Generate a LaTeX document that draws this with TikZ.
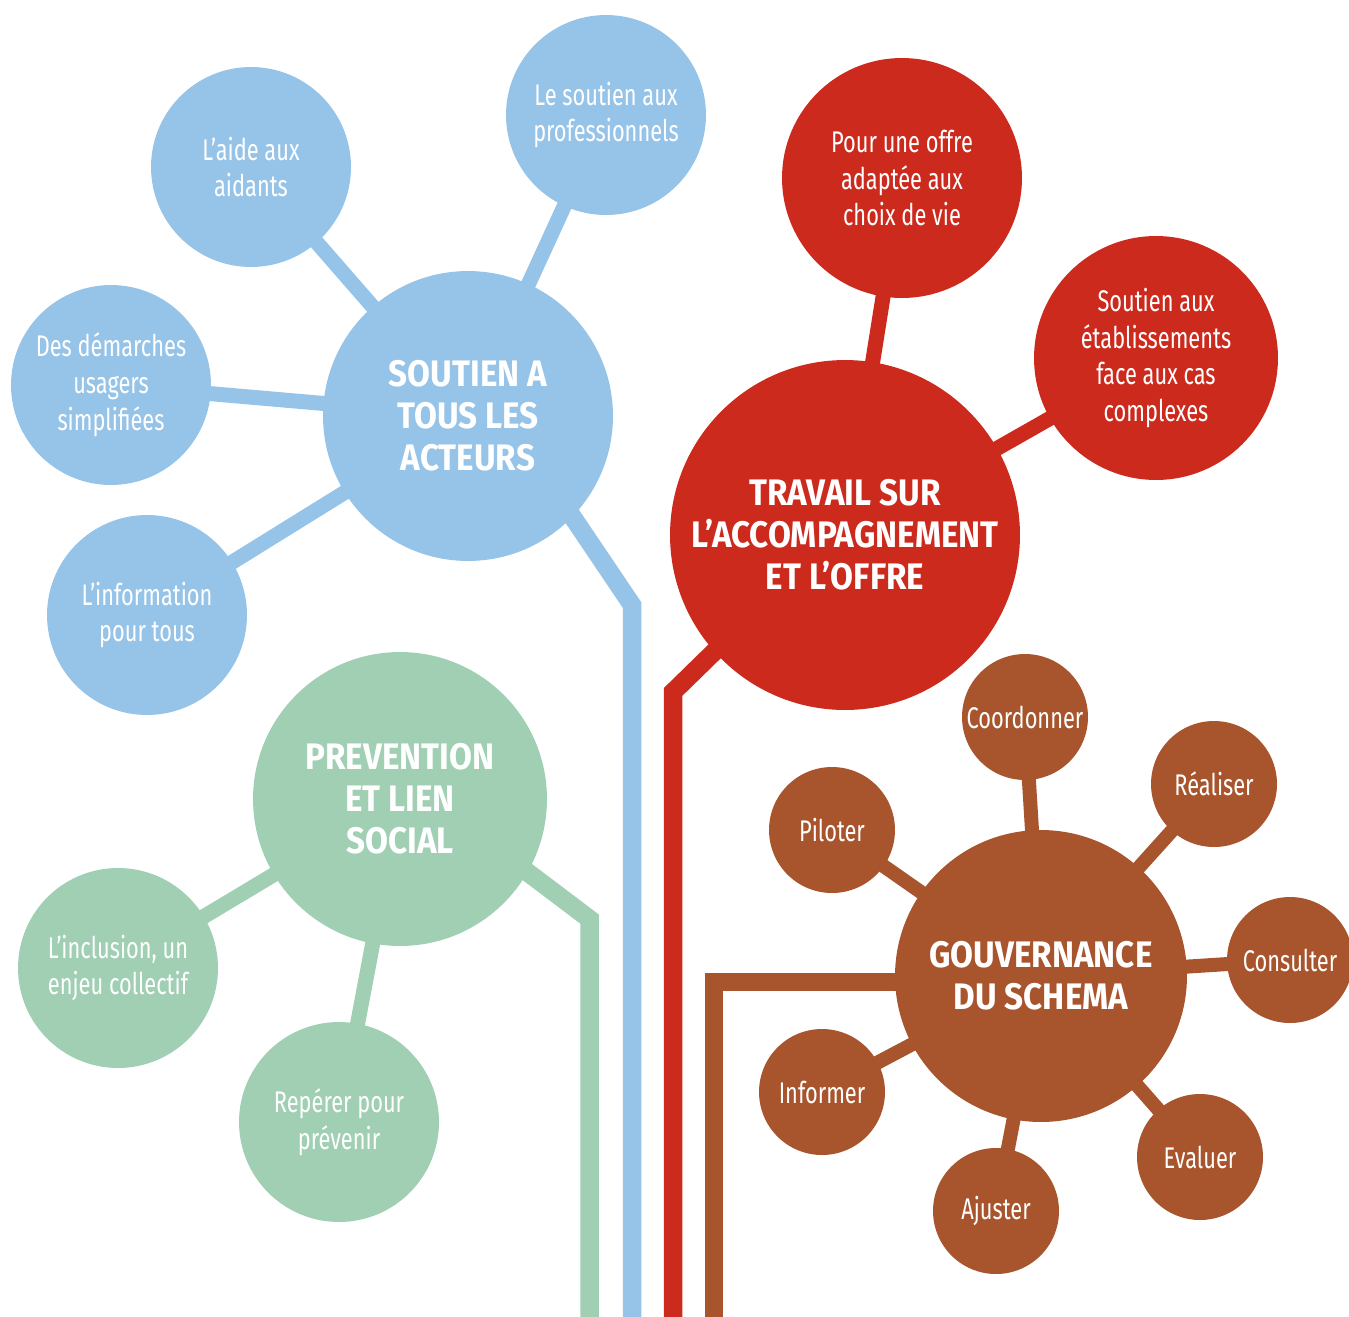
\documentclass[tikz,border=0pt]{standalone}
\usepackage{fontspec}
\setmainfont{Fira Sans}
\newfontfamily\hubfont[FakeStretch=0.9]{Fira Sans}
\newfontfamily\leaffont[FakeStretch=0.73]{Fira Sans}
\usetikzlibrary{positioning, backgrounds}

\definecolor{skyblue}{RGB}{150,195,232}
\definecolor{brickred}{RGB}{205,42,30}
\definecolor{sagegreen}{RGB}{160,207,180}
\definecolor{rust}{RGB}{168,85,45}

\begin{document}
\begin{tikzpicture}[
    x=0.02cm, y=-0.02cm,
    % Circles: big themes and small actions
    hub/.style={
        circle,
        inner sep=0pt,
        text=white,
        align=center,
        font=\hubfont\bfseries\fontsize{21}{24}\selectfont
    },
    leaf/.style={
        circle,
        inner sep=0pt,
        text=white,
        align=center,
        font=\leaffont\fontsize{17}{21}\selectfont
    },
    twig/.style={
        circle,
        inner sep=0pt,
        minimum size=2.52cm,
        fill=rust,
        text=white,
        font=\leaffont\fontsize{17}{21}\selectfont
    },
    link/.style={line width=0.3cm},
    trunk/.style={line width=0.37cm}
]
\useasboundingbox (0,0) rectangle (1349,1316);

% === Blue: soutien a tous les acteurs ===
\node[hub, fill=skyblue, minimum size=5.8cm] (acteurs) at (468,416) {SOUTIEN A\\TOUS LES\\ACTEURS};
\node[leaf, fill=skyblue, minimum size=4cm] (aidants) at (251,167) {L’aide aux\\aidants};
\node[leaf, fill=skyblue, minimum size=4cm] (pros) at (606,115) {Le soutien aux\\professionnels};
\node[leaf, fill=skyblue, minimum size=4cm] (demarches) at (111,385) {Des démarches\\usagers\\simplifiées};
\node[leaf, fill=skyblue, minimum size=4cm] (info) at (147,615) {L’information\\pour tous};

% === Red: travail sur l'accompagnement ===
\node[hub, fill=brickred, minimum size=7cm] (offre) at (845,535) {TRAVAIL SUR\\L’ACCOMPAGNEMENT\\ET L’OFFRE};
\node[leaf, fill=brickred, minimum size=4.8cm] (choix) at (902,178) {Pour une offre\\adaptée aux\\choix de vie};
\node[leaf, fill=brickred, minimum size=4.88cm] (etab) at (1156,358) {Soutien aux\\établissements\\face aux cas\\complexes};

% === Green: prevention ===
\node[hub, fill=sagegreen, minimum size=5.88cm] (prevention) at (400,799) {PREVENTION\\ET LIEN\\SOCIAL};
\node[leaf, fill=sagegreen, minimum size=4cm] (inclusion) at (118,968) {L’inclusion, un\\enjeu collectif};
\node[leaf, fill=sagegreen, minimum size=4cm] (reperer) at (339,1122) {Repérer pour\\prévenir};

% === Brown: gouvernance ===
\node[hub, fill=rust, minimum size=5.84cm] (gouv) at (1041,976) {GOUVERNANCE\\DU SCHEMA};
\node[twig] (coord) at (1025,717) {Coordonner};
\node[twig] (realiser) at (1214,784) {Réaliser};
\node[twig] (piloter) at (832,830) {Piloter};
\node[twig] (consulter) at (1290,960) {Consulter};
\node[twig] (informer) at (822,1092) {Informer};
\node[twig] (evaluer) at (1200,1157) {Evaluer};
\node[twig] (ajuster) at (996,1211) {Ajuster};

% === Trunk points ===
\coordinate (blueroot) at (543,473);
\coordinate (blueknee) at (632,605);
\coordinate (bluefoot) at (632,1330);
\coordinate (redroot) at (757,610);
\coordinate (redknee) at (673,692);
\coordinate (redfoot) at (673,1330);
\coordinate (greenroot) at (465,825);
\coordinate (greenknee) at (589.5,919);
\coordinate (greenfoot) at (589.5,1330);
\coordinate (rustroot) at (980,982);
\coordinate (rustknee) at (714,982);
\coordinate (rustfoot) at (714,1330);

% === Branches behind the circles ===
\begin{scope}[on background layer]
\draw[link, skyblue] (acteurs.center) -- (aidants.center);
\draw[link, skyblue] (acteurs.center) -- (pros.center);
\draw[link, skyblue] (acteurs.center) -- (demarches.center);
\draw[link, skyblue] (acteurs.center) -- (info.center);
\draw[trunk, skyblue] (blueroot) -- (blueknee) -- (bluefoot);

\draw[link, brickred] (offre.center) -- (choix.center);
\draw[link, brickred] (offre.center) -- (etab.center);
\draw[trunk, brickred] (redroot) -- (redknee) -- (redfoot);

\draw[link, sagegreen] (prevention.center) -- (inclusion.center);
\draw[link, sagegreen] (prevention.center) -- (reperer.center);
\draw[trunk, sagegreen] (greenroot) -- (greenknee) -- (greenfoot);

\foreach \t in {coord, realiser, piloter, consulter, informer, evaluer, ajuster}
    \draw[line width=0.28cm, rust] (gouv.center) -- (\t.center);
\draw[trunk, rust] (rustroot) -- (rustknee) -- (rustfoot);
\end{scope}

\end{tikzpicture}
\end{document}
